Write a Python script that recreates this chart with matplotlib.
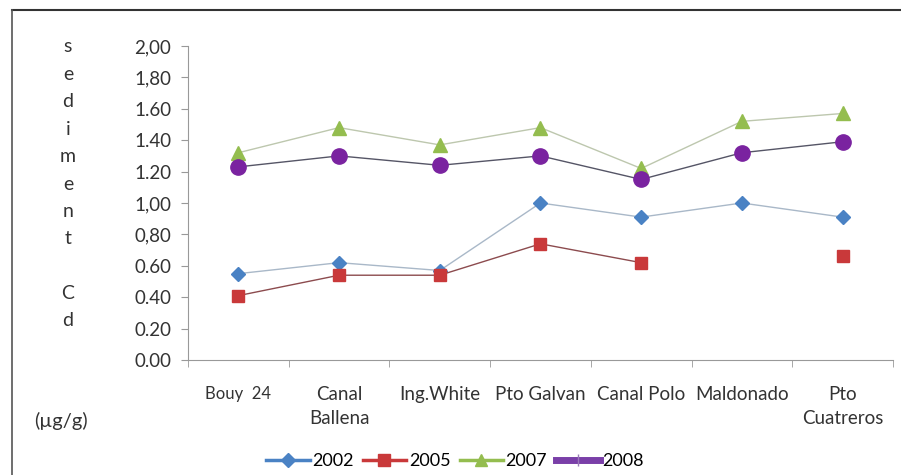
import numpy as np
import matplotlib.pyplot as plt
from matplotlib.lines import Line2D

plt.rcParams['font.family'] = ['Lato', 'DejaVu Sans']

sites = ["Bouy  24", "Canal\nBallena", "Ing.White", "Pto Galvan", "Canal Polo", "Maldonado", "Pto\nCuatreros"]
years = ["2002", "2005", "2007", "2008"]
cd_2002 = [0.55, 0.62, 0.57, 1.00, 0.91, 1.00, 0.91]
cd_2005 = [0.41, 0.54, 0.54, 0.74, 0.62, np.nan, 0.66]
cd_2007 = [1.32, 1.48, 1.37, 1.48, 1.22, 1.52, 1.57]
cd_2008 = [1.23, 1.30, 1.24, 1.30, 1.15, 1.32, 1.39]
ytick_labels = ["0.00", "0.20", "0.40", "0.60", "0,80", "1,00", "1.20", "1.40", "1.60", "1,80", "2,00"]
ylabel_letters = ["s", "e", "d", "i", "m", "e", "n", "t", "", "C", "d"]

fig = plt.figure(figsize=(9.01, 4.75), dpi=100)
ax = fig.add_axes([0.2087, 0.2421, 0.991 - 0.2087, 0.9032 - 0.2421])

x = np.arange(len(sites))
series = [
    (cd_2002, "#4a82c4", "#a9b8c8", "D", 7.5),
    (cd_2005, "#c9393a", "#8c4b4e", "s", 9),
    (cd_2007, "#94bd4f", "#bdc7ae", "^", 9.5),
    (cd_2008, "#7a23a0", "#555566", "o", 11),
]
for vals, mc, lc, m, ms in series:
    ax.plot(x, vals, color=lc, lw=1.0, marker=m, ms=ms, mfc=mc, mec=mc, zorder=3)

ax.set_xlim(-0.5, len(sites) - 0.5)
ax.set_ylim(0, 2.0)
ax.set_yticks(np.arange(0, 2.01, 0.2))
ax.set_yticklabels(ytick_labels, fontsize=13.5, color="#333333")
ax.set_xticks(x)
ax.set_xticklabels(sites, fontsize=13.5, color="#333333", linespacing=1.45)
ax.get_xticklabels()[0].set_fontsize(12)
ax.set_xticks(np.arange(-0.5, len(sites), 1.0), minor=True)
ax.tick_params(axis='x', which='major', length=0, pad=19)
ax.tick_params(axis='x', which='minor', length=5, color="#999999")
ax.tick_params(axis='y', length=5, color="#999999", pad=7)
for s in ["top", "right"]:
    ax.spines[s].set_visible(False)
for s in ["left", "bottom"]:
    ax.spines[s].set_color("#999999")

# vertical stacked y label, one letter per line
for i, ch in enumerate(ylabel_letters):
    fig.text(68 / 901, 1 - (47 + 27.4 * i) / 475, ch, ha="center", va="center",
             fontsize=14, color="#333333")
fig.text(61 / 901, 1 - 421 / 475, "(µg/g)", ha="center", va="center", fontsize=14.5, color="#333333")

# frame lines
fig.add_artist(Line2D([12 / 901, 1.0], [1 - 10 / 475, 1 - 10 / 475], color="#333333", lw=1.5))
fig.add_artist(Line2D([12 / 901, 12 / 901], [0, 1 - 10 / 475], color="#555555", lw=1.2))

handles = [
    Line2D([], [], color="#4a82c4", lw=2.5, marker="D", ms=7.5),
    Line2D([], [], color="#c9393a", lw=2.5, marker="s", ms=9),
    Line2D([], [], color="#94bd4f", lw=2.5, marker="^", ms=9),
    Line2D([], [], color="#7a3fa8", lw=5, marker="|", ms=8, mec="#9a7ab8"),
]
fig.legend(handles, years, loc="center", bbox_to_anchor=(455 / 901, 1 - 461 / 475), ncol=4,
           frameon=False, fontsize=13, handlelength=2.4, columnspacing=0.5, handletextpad=0.15)

fig.savefig("out.png", dpi=100)
